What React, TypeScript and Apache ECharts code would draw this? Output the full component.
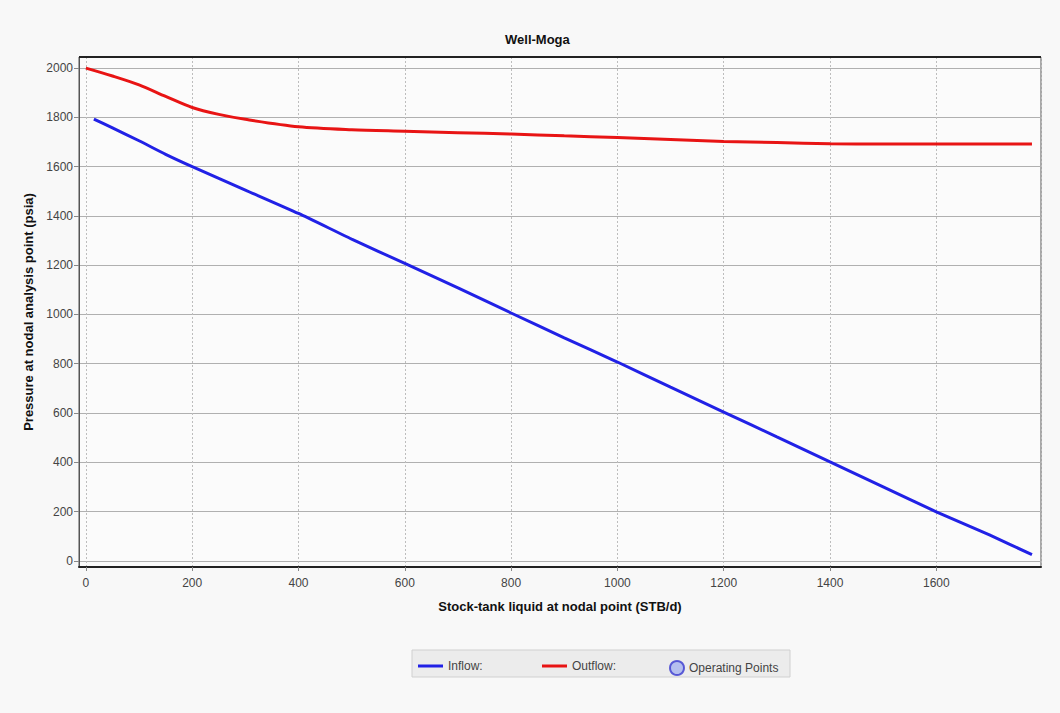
import React, { useEffect, useRef } from "react";
import * as echarts from "echarts";

const inflowX = [15, 50, 100, 150, 200, 300, 400, 500, 600, 700, 800, 900, 1000, 1100, 1200, 1300, 1400, 1500, 1600, 1700, 1780];
const inflowY = [1793, 1757, 1705, 1650, 1600, 1505, 1410, 1306, 1207, 1108, 1006, 905, 807, 705, 604, 503, 402, 300, 199, 105, 25];
const outflowX = [0, 50, 100, 150, 200, 250, 300, 400, 500, 600, 700, 800, 900, 1000, 1100, 1200, 1300, 1400, 1500, 1600, 1780];
const outflowY = [2000, 1968, 1932, 1885, 1840, 1812, 1792, 1762, 1750, 1744, 1738, 1732, 1725, 1718, 1710, 1702, 1698, 1693, 1692, 1692, 1692];

const titleText = "Well-Moga";
const xName = "Stock-tank liquid at nodal point (STB/d)";
const yName = "Pressure at nodal analysis point (psia)";
const legendNames = ["Inflow:", "Outflow:", "Operating Points"];

const FONT = "'Liberation Sans Narrow', 'Liberation Sans', sans-serif";

export default function App() {
  const ref = useRef<HTMLDivElement>(null);
  useEffect(() => {
    if (!ref.current) return;
    const chart = echarts.init(ref.current, null, { renderer: "svg" });
    const inflow = inflowX.map((x, i) => [x, inflowY[i]]);
    const outflow = outflowX.map((x, i) => [x, outflowY[i]]);
    const hide = (v: number) => (Math.abs(v % 200) < 1e-6 ? String(v) : "");
    chart.setOption({
      animation: false,
      backgroundColor: "#f8f8f8",
      grid: {
        left: 79,
        top: 57,
        right: 19,
        bottom: 146,
        show: true,
        backgroundColor: "#fbfbfb",
        borderColor: "#555",
        borderWidth: 1,
      },
      graphic: [
        {
          type: "text",
          left: 535 - 30,
          top: 33,
          style: { text: titleText, font: `bold 13px ${FONT}`, fill: "#111" },
        },
        {
          type: "rect",
          shape: { x: 412, y: 650, width: 378, height: 27 },
          style: { fill: "#ececec", stroke: "#d0d0d0", lineWidth: 1 },
          z: -1,
        },
        {
          type: "line",
          shape: { x1: 79, y1: 57, x2: 1041, y2: 57 },
          style: { stroke: "#222", lineWidth: 2 },
          z: 10,
        },
      ],
      legend: [
        {
          left: 413,
          top: 655,
          itemWidth: 25,
          itemHeight: 3,
          itemGap: 0,
          data: [{ name: legendNames[0], icon: "rect" }],
          textStyle: { fontFamily: FONT, fontSize: 12, color: "#444" },
        },
        {
          left: 537,
          top: 655,
          itemWidth: 25,
          itemHeight: 3,
          data: [{ name: legendNames[1], icon: "rect" }],
          textStyle: { fontFamily: FONT, fontSize: 12, color: "#444" },
        },
        {
          left: 664,
          top: 655,
          itemWidth: 14,
          itemHeight: 14,
          data: [{ name: legendNames[2], icon: "circle" }],
          textStyle: { fontFamily: FONT, fontSize: 12, color: "#444" },
        },
      ],
      xAxis: {
        type: "value",
        min: -13,
        max: 1797,
        minInterval: 200,
        maxInterval: 200,
        splitNumber: 9,
        name: xName,
        nameLocation: "middle",
        nameGap: 33,
        nameTextStyle: { fontFamily: FONT, fontSize: 13, fontWeight: "bold", color: "#111" },
        axisLine: { show: true, onZero: false, lineStyle: { color: "#222", width: 2 } },
        axisTick: { show: true, length: 4, lineStyle: { color: "#888" } },
        axisLabel: {
          formatter: hide,
          showMinLabel: false,
          showMaxLabel: false,
          fontFamily: FONT,
          fontSize: 12,
          color: "#444",
          margin: 10,
        },
        splitLine: { show: true, lineStyle: { color: "#bdbdbd", type: [2, 2], width: 1 } },
      },
      yAxis: {
        type: "value",
        min: -25,
        max: 2045,
        minInterval: 200,
        maxInterval: 200,
        splitNumber: 10,
        name: yName,
        nameLocation: "middle",
        nameGap: 33,
        nameTextStyle: { fontFamily: FONT, fontSize: 13, fontWeight: "bold", color: "#111" },
        axisLine: { show: true, onZero: false, lineStyle: { color: "#555", width: 1 } },
        axisTick: { show: true, length: 5, lineStyle: { color: "#888" } },
        axisLabel: {
          formatter: hide,
          showMinLabel: false,
          showMaxLabel: false,
          fontFamily: FONT,
          fontSize: 12,
          color: "#444",
          margin: 6,
        },
        splitLine: { show: true, lineStyle: { color: "#b0b0b0", width: 1 } },
      },
      series: [
        {
          name: legendNames[0],
          type: "line",
          data: inflow,
          showSymbol: false,
          smooth: 0.2,
          lineStyle: { color: "#2121e6", width: 3 },
          itemStyle: { color: "#2121e6" },
          z: 5,
        },
        {
          name: legendNames[1],
          type: "line",
          data: outflow,
          showSymbol: false,
          smooth: 0.3,
          lineStyle: { color: "#e81414", width: 3 },
          itemStyle: { color: "#e81414" },
          z: 5,
        },
        {
          name: legendNames[2],
          type: "scatter",
          data: [],
          symbol: "circle",
          itemStyle: { color: "#a8b4f0", borderColor: "#3a3ad0", borderWidth: 3 },
        },
      ],
    });
    return () => chart.dispose();
  }, []);
  return (
    <div
      ref={ref}
      style={{ position: "fixed", left: 0, top: 0, width: 1060, height: 713 }}
    />
  );
}
